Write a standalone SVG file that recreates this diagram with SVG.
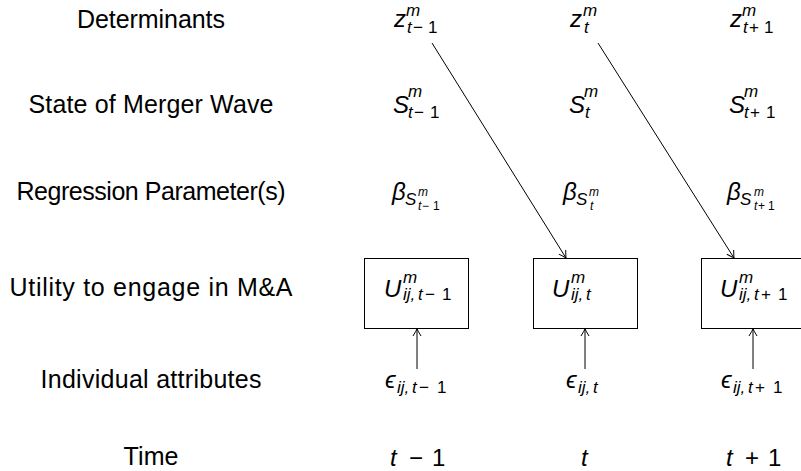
<svg xmlns="http://www.w3.org/2000/svg" width="801" height="471" viewBox="0 0 801 471">
<style>
text{font-family:"Liberation Sans",Arial,sans-serif;fill:#000}
.lbl{font-size:25px;text-anchor:middle}
.i{font-style:italic}
.b{font-size:24px}
.s{font-size:17px}
.ss{font-size:12px}
.box{fill:#fff;stroke:#000;stroke-width:1}
.edge{stroke:#000;stroke-width:1;fill:none;marker-end:url(#arr)}
</style>
<defs>
<marker id="arr" markerUnits="userSpaceOnUse" markerWidth="12" markerHeight="12" viewBox="-10 -6 12 12" refX="0" refY="0" orient="auto">
<path d="M-7,-4 Q-2,-1 0,0 Q-2,1 -7,4" fill="none" stroke="#000" stroke-width="1"/>
</marker>
</defs>
<rect width="801" height="471" fill="#fff"/>

<g id="labels">
<text class="lbl" x="151" y="28" textLength="148" lengthAdjust="spacing">Determinants</text>
<text class="lbl" x="151" y="113" textLength="245" lengthAdjust="spacing">State of Merger Wave</text>
<text class="lbl" x="151" y="200" textLength="269" lengthAdjust="spacing">Regression Parameter(s)</text>
<text class="lbl" x="151" y="296" textLength="283" lengthAdjust="spacing">Utility to engage in M&amp;A</text>
<text class="lbl" x="151" y="388" textLength="221" lengthAdjust="spacing">Individual attributes</text>
<text class="lbl" x="151" y="465" textLength="55" lengthAdjust="spacing">Time</text>
</g>

<g id="z1"><text><tspan class="b i" x="394" y="27">z</tspan><tspan class="s i" x="406" y="16">m</tspan><tspan class="s i" x="407" y="33">t</tspan><tspan class="s" x="413" y="33">−</tspan><tspan class="s" x="428" y="33">1</tspan></text></g>
<g id="z2"><text><tspan class="b i" x="570" y="27">z</tspan><tspan class="s i" x="583" y="16">m</tspan><tspan class="s i" x="584" y="33">t</tspan></text></g>
<g id="z3"><text><tspan class="b i" x="730" y="27">z</tspan><tspan class="s i" x="742" y="16">m</tspan><tspan class="s i" x="743" y="33">t</tspan><tspan class="s" x="749" y="33">+</tspan><tspan class="s" x="764" y="33">1</tspan></text></g>

<g id="S1"><text><tspan class="b i" x="393" y="113">S</tspan><tspan class="s i" x="408" y="97">m</tspan><tspan class="s i" x="408" y="118">t</tspan><tspan class="s" x="414" y="118">−</tspan><tspan class="s" x="430" y="118">1</tspan></text></g>
<g id="S2"><text><tspan class="b i" x="569" y="113">S</tspan><tspan class="s i" x="584" y="97">m</tspan><tspan class="s i" x="585" y="118">t</tspan></text></g>
<g id="S3"><text><tspan class="b i" x="729" y="113">S</tspan><tspan class="s i" x="744" y="97">m</tspan><tspan class="s i" x="744" y="118">t</tspan><tspan class="s" x="750" y="118">+</tspan><tspan class="s" x="766" y="118">1</tspan></text></g>

<g id="beta1"><text><tspan class="b i" x="392" y="200">β</tspan><tspan class="s i" x="405" y="205">S</tspan><tspan class="ss i" x="418" y="196">m</tspan><tspan class="ss i" x="418" y="210">t</tspan><tspan class="ss" x="422" y="210">−</tspan><tspan class="ss" x="433" y="210">1</tspan></text></g>
<g id="beta2"><text><tspan class="b i" x="563" y="200">β</tspan><tspan class="s i" x="576" y="205">S</tspan><tspan class="ss i" x="589" y="196">m</tspan><tspan class="ss i" x="590" y="210">t</tspan></text></g>
<g id="beta3"><text><tspan class="b i" x="727" y="200">β</tspan><tspan class="s i" x="740" y="205">S</tspan><tspan class="ss i" x="754" y="196">m</tspan><tspan class="ss i" x="754" y="210">t</tspan><tspan class="ss" x="758" y="210">+</tspan><tspan class="ss" x="768" y="210">1</tspan></text></g>

<g id="U1"><rect class="box" x="364.5" y="258.5" width="104" height="70"/><text><tspan class="b i" x="384" y="297">U</tspan><tspan class="s i" x="403" y="283">m</tspan><tspan class="s i" x="403" y="300">ij,</tspan><tspan class="s i" x="418" y="300">t</tspan><tspan class="s" x="425" y="300">−</tspan><tspan class="s" x="442" y="300">1</tspan></text></g>
<g id="U2"><rect class="box" x="533.5" y="258.5" width="104" height="70"/><text><tspan class="b i" x="552" y="297">U</tspan><tspan class="s i" x="571" y="283">m</tspan><tspan class="s i" x="571" y="300">ij,</tspan><tspan class="s i" x="586" y="300">t</tspan></text></g>
<g id="U3"><rect class="box" x="701.5" y="258.5" width="104" height="70"/><text><tspan class="b i" x="720" y="297">U</tspan><tspan class="s i" x="739" y="283">m</tspan><tspan class="s i" x="739" y="300">ij,</tspan><tspan class="s i" x="754" y="300">t</tspan><tspan class="s" x="761" y="300">+</tspan><tspan class="s" x="778" y="300">1</tspan></text></g>

<g id="e1"><text><tspan class="b i" x="385" y="388">ϵ</tspan><tspan class="s i" x="397" y="393">ij,</tspan><tspan class="s i" x="412" y="393">t</tspan><tspan class="s" x="419" y="393">−</tspan><tspan class="s" x="437" y="393">1</tspan></text></g>
<g id="e2"><text><tspan class="b i" x="566" y="388">ϵ</tspan><tspan class="s i" x="578" y="393">ij,</tspan><tspan class="s i" x="593" y="393">t</tspan></text></g>
<g id="e3"><text><tspan class="b i" x="721" y="388">ϵ</tspan><tspan class="s i" x="733" y="393">ij,</tspan><tspan class="s i" x="748" y="393">t</tspan><tspan class="s" x="755" y="393">+</tspan><tspan class="s" x="773" y="393">1</tspan></text></g>

<g id="t1"><text><tspan class="b i" x="390" y="466">t</tspan><tspan class="b" x="409" y="466">−</tspan><tspan class="b" x="432" y="466">1</tspan></text></g>
<g id="t2"><text><tspan class="b i" x="581" y="466">t</tspan></text></g>
<g id="t3"><text><tspan class="b i" x="726" y="466">t</tspan><tspan class="b" x="745" y="466">+</tspan><tspan class="b" x="768" y="466">1</tspan></text></g>

<g id="connectors">
<line class="edge" x1="432" y1="43" x2="566" y2="258"/>
<line class="edge" x1="598" y1="43" x2="734" y2="258"/>
<line class="edge" x1="417" y1="369" x2="417" y2="329"/>
<line class="edge" x1="585" y1="369" x2="585" y2="329"/>
<line class="edge" x1="753" y1="369" x2="753" y2="329"/>
</g>
</svg>
